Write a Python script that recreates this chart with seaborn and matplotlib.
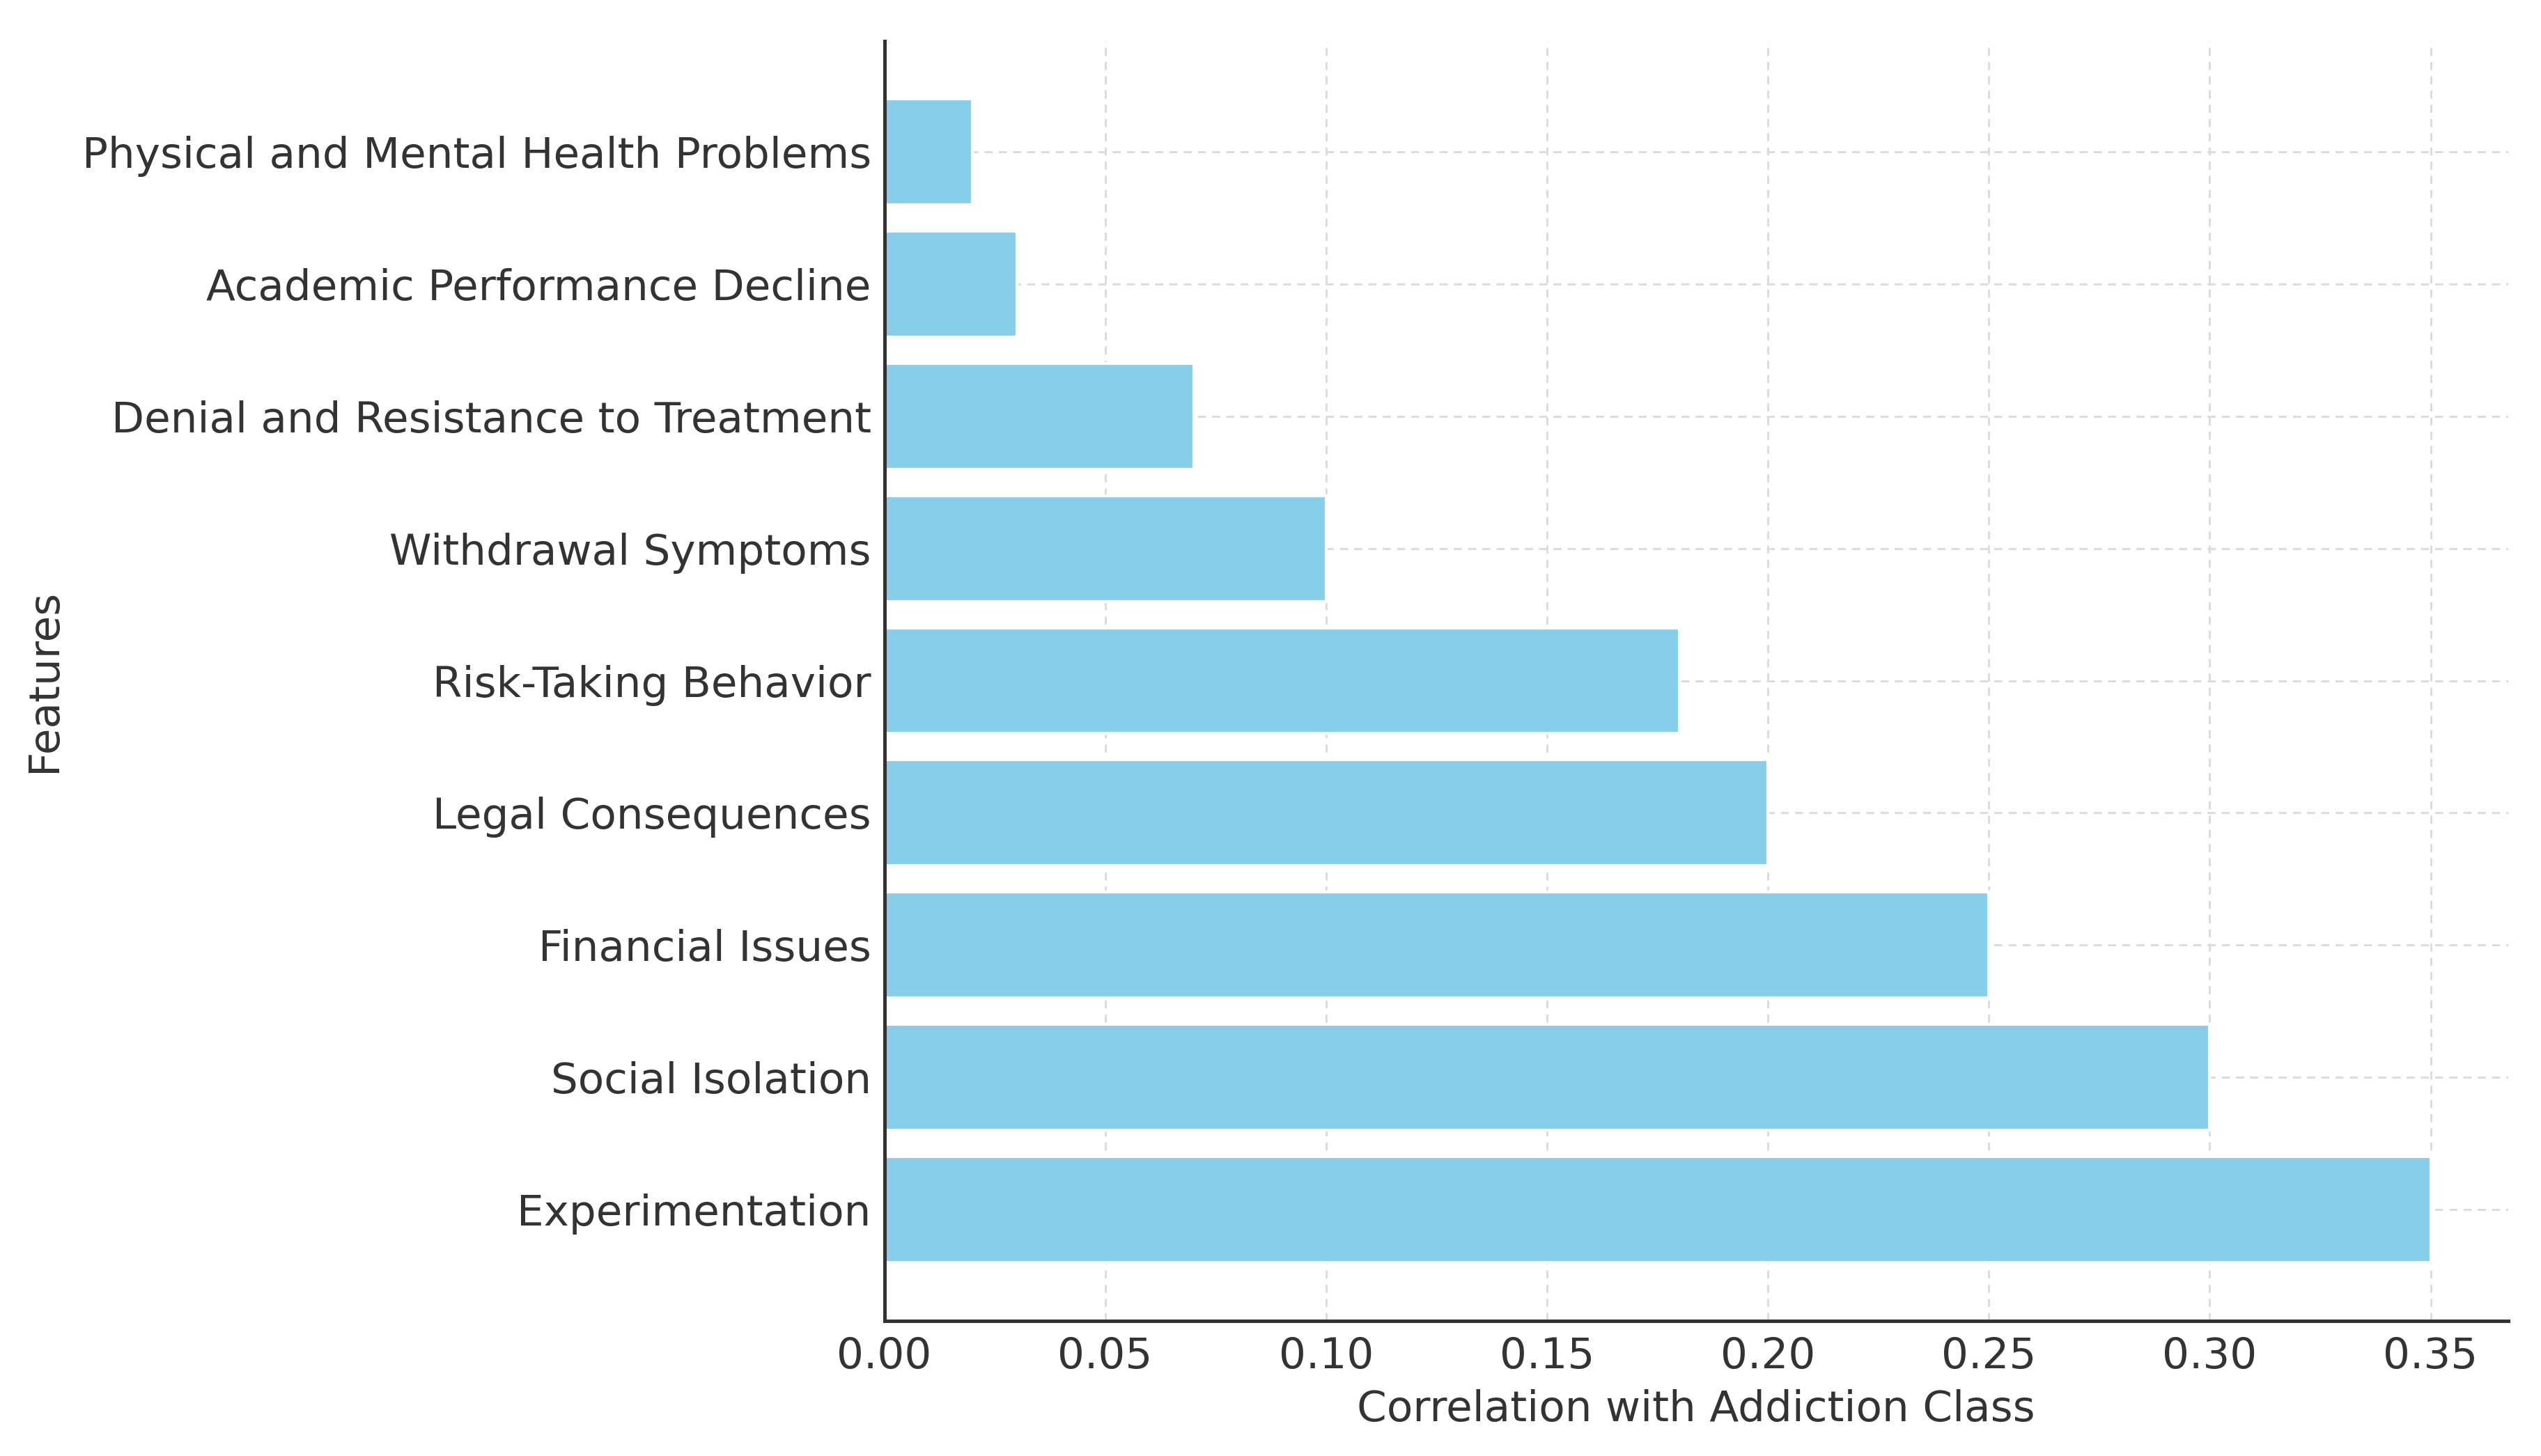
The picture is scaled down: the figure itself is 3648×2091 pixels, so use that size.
"""
Feature correlation bar chart
"""

import pandas as pd
import matplotlib.pyplot as plt
import seaborn as sns

features = ['Physical and Mental Health Problems', 'Academic Performance Decline',
            'Denial and Resistance to Treatment', 'Withdrawal Symptoms',
            'Risk-Taking Behavior', 'Legal Consequences', 'Financial Issues',
            'Social Isolation', 'Experimentation']
correlations = [0.02, 0.03, 0.07, 0.10, 0.18, 0.20, 0.25, 0.30, 0.35]

df = pd.DataFrame({'Features': features, 'Correlation': correlations})

sns.set_style('white')
plt.rcParams['font.family'] = ['DejaVu Sans']

fig, ax = plt.subplots(figsize=(12.16, 6.97), dpi=300)
sns.barplot(data=df, x='Correlation', y='Features', color='skyblue',
            saturation=1, width=0.8, ax=ax, zorder=2)

# matplotlib-style margins around the bars
n = len(features)
pad = (n - 0.2) * 0.05
ax.set_ylim(n - 0.6 + pad, -0.4 - pad)

ax.grid(True, linestyle=(0, (4, 3)), color='#dcdcdc', linewidth=0.7, zorder=0)
ax.set_axisbelow(True)
sns.despine(ax=ax)
for s in ['left', 'bottom']:
    ax.spines[s].set_color('#333333')
    ax.spines[s].set_linewidth(1.2)

ax.tick_params(axis='y', colors='#333333', labelsize=14.7, length=2, width=1, pad=2.5)
ax.tick_params(axis='x', colors='#333333', labelsize=14.7, length=3, width=1, pad=2.5)
ax.set_xlabel('Correlation with Addiction Class', fontsize=14.7, color='#333333', labelpad=4)
ax.set_ylabel('Features', fontsize=14.7, color='#333333', labelpad=6)

fig.subplots_adjust(left=0.348, right=0.987, top=0.972, bottom=0.093)
fig.savefig('out.png')
